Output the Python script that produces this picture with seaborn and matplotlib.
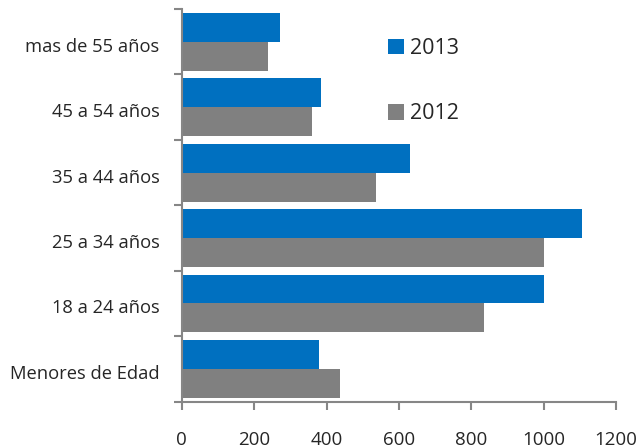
import matplotlib
matplotlib.use("Agg")
import matplotlib.pyplot as plt
import matplotlib.transforms as mtransforms
import seaborn as sns
import pandas as pd
import numpy as np
from matplotlib.patches import Patch

categories = ["mas de 55 años", "45 a 54 años", "35 a 44 años",
              "25 a 34 años", "18 a 24 años", "Menores de Edad"]
values_2013 = [272, 385, 632, 1105, 1002, 380]
values_2012 = [238, 361, 536, 1002, 836, 436]
series = ["2013", "2012"]
x_ticks = [0, 200, 400, 600, 800, 1000, 1200]

df = pd.DataFrame({
    "cat": categories * 2,
    "year": ["2013"] * len(categories) + ["2012"] * len(categories),
    "val": values_2013 + values_2012,
})

sns.set_theme(style="white")
plt.rcParams['font.family'] = ['Open Sans', 'DejaVu Sans']

fig = plt.figure(figsize=(6.4, 4.48), dpi=100)
ax = fig.add_axes([0.284, 0.1033, 0.6785, 0.877])

colors = {"2013": "#0070C0", "2012": "#808080"}
sns.barplot(data=df, y="cat", x="val", hue="year", hue_order=series,
            order=categories, palette=colors, width=0.885, orient="h",
            ax=ax, legend=False, saturation=1, linewidth=0)

ax.set_xlim(0, 1200)
ax.set_ylim(len(categories) - 0.5, -0.5)
ax.set_xticks(x_ticks)
ax.set_xticklabels([str(t) for t in x_ticks], fontsize=13.5)
ax.set_xlabel("")
ax.set_ylabel("")
ax.tick_params(axis='y', which='major', length=0, pad=16, labelsize=13.2)
ax.set_yticks(np.arange(-0.5, len(categories), 1.0), minor=True)
ax.tick_params(axis='y', which='minor', length=6, width=1.5, color="#868686", direction='out', left=True)
ax.tick_params(axis='x', which='major', length=6, width=1.5, color="#868686", direction='out', bottom=True, pad=15)

offset = mtransforms.ScaledTranslation(0, -3 / 100, fig.dpi_scale_trans)
for lbl in ax.get_yticklabels():
    lbl.set_transform(lbl.get_transform() + offset)

for s in ["top", "right"]:
    ax.spines[s].set_visible(False)
for s in ["left", "bottom"]:
    ax.spines[s].set_color("#868686")
    ax.spines[s].set_linewidth(1.5)

handles = [Patch(facecolor=colors[s], edgecolor='none') for s in series]
leg = ax.legend(handles, series, loc="upper left", bbox_to_anchor=(0.43, 0.975),
                frameon=False, fontsize=15.5, handlelength=0.75, handleheight=0.75,
                handletextpad=0.3, labelspacing=2.05)

fig.savefig("out.png", dpi=100)
